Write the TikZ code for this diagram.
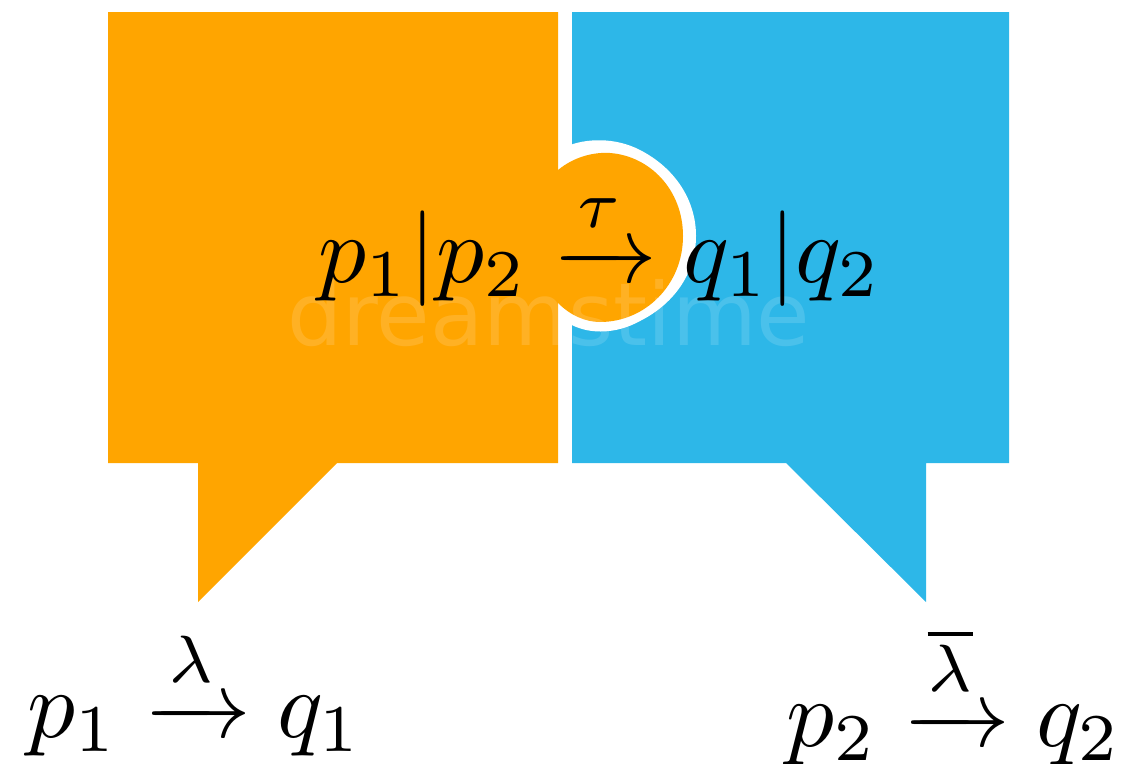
\documentclass[tikz,border=0pt]{standalone}
\usepackage{amsmath}
\usepackage{fontspec}
\newfontfamily\wmfont{DejaVu Sans}
\definecolor{oran}{RGB}{255,165,0}
\definecolor{blu}{RGB}{45,183,232}
\tikzset{formula/.style={inner sep=0pt,anchor=base,text=black,scale=9.55},
  wmark/.style={inner sep=0pt,anchor=base,text=white,text opacity=0.14,font=\wmfont,scale=8.7}}
\begin{document}
\begin{tikzpicture}[x=1pt,y=-1pt]
\useasboundingbox (0,0) rectangle (1124,763);
\fill[blu] (572,12) -- (1009,12) -- (1009,463) -- (926,463) -- (926,602) -- (786,463) -- (572,463) -- cycle;
\fill[white] (565,147) .. controls (585,138) and (615,137) .. (640,150) .. controls (675,168) and (696,200) .. (696,236) .. controls (696,275) and (672,305) .. (640,321) .. controls (615,335) and (585,335) .. (565,321) -- cycle;
\fill[oran] (108,12) -- (558,12) -- (558,463) -- (337,463) -- (198,602) -- (198,463) -- (108,463) -- cycle;
\fill[oran] (558,170) .. controls (575,156) and (595,152) .. (610,153) .. controls (650,156) and (683,190) .. (683,236) .. controls (683,285) and (645,322) .. (600,322) .. controls (585,322) and (570,315) .. (558,303) -- cycle;
\node[wmark] (wm) at (549,345) {dreamstime};
\node[formula] (mid) at (600,282) {$p_1|p_2 \xrightarrow{\tau} q_1|q_2$};
\node[formula] (l) at (195,737) {$p_1 \xrightarrow{\lambda} q_1$};
\node[formula] (r) at (954,746) {$p_2 \xrightarrow{\overline{\lambda}} q_2$};
\end{tikzpicture}
\end{document}
